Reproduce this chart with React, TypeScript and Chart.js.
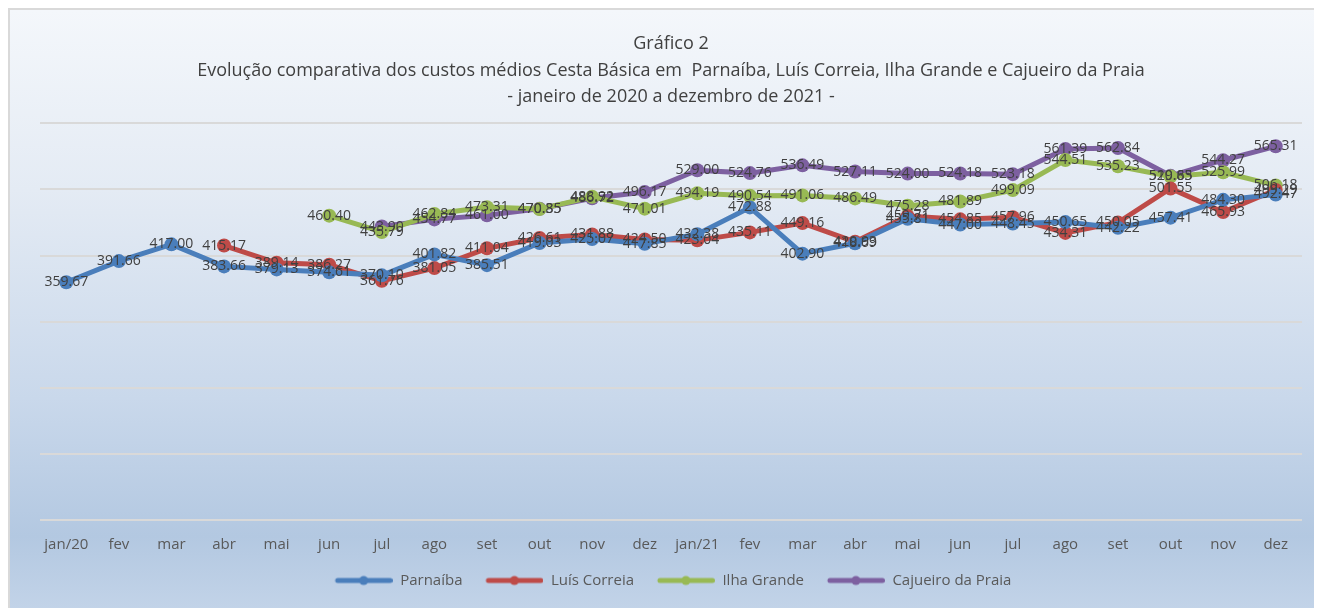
import React, { useEffect, useRef } from "react";
import { Chart, registerables } from "chart.js";

Chart.register(...registerables);

const months = ["jan/20", "fev", "mar", "abr", "mai", "jun", "jul", "ago", "set", "out", "nov", "dez", "jan/21", "fev", "mar", "abr", "mai", "jun", "jul", "ago", "set", "out", "nov", "dez"];

const parnaiba = [359.67, 391.66, 417.0, 383.66, 379.13, 374.61, 370.1, 401.82, 385.51, 419.03, 425.07, 417.85, 432.38, 472.88, 402.9, 418.69, 455.81, 447.0, 448.45, 450.65, 442.22, 457.41, 484.3, 492.47];
const luisCorreia = [null, null, null, 415.17, 389.14, 386.27, 361.76, 381.05, 411.04, 426.61, 431.88, 424.5, 423.04, 435.11, 449.16, 420.93, 459.71, 454.85, 457.96, 434.31, 450.05, 501.55, 465.93, 499.29];
const ilhaGrande = [null, null, null, null, null, 460.4, 435.79, 462.84, 473.31, 470.35, 488.92, 471.01, 494.19, 490.54, 491.06, 486.49, 475.28, 481.89, 499.09, 544.51, 535.23, 519.83, 525.99, 506.18];
const cajueiro = [null, null, null, null, null, null, 443.9, 454.77, 461.0, 470.85, 486.72, 496.17, 529.0, 524.76, 536.49, 527.11, 524.0, 524.18, 523.18, 561.39, 562.84, 520.65, 544.27, 565.31];

const seriesNames = ["Parnaíba", "Luís Correia", "Ilha Grande", "Cajueiro da Praia"];
const seriesColors = ["#4a7ebb", "#be4b48", "#98b954", "#7d60a0"];

const titleLines = [
  "Gráfico 2",
  "Evolução comparativa dos custos médios Cesta Básica em  Parnaíba, Luís Correia, Ilha Grande e Cajueiro da Praia",
  "- janeiro de 2020 a dezembro de 2021 -",
];

const FONT = "'Open Sans', 'Noto Sans', sans-serif";

const ICON_W = 66;
const ICON_BLANK = 8;

function makeIcon(color: string) {
  const c = document.createElement("canvas");
  c.width = ICON_W;
  c.height = 14;
  const g = c.getContext("2d")!;
  g.strokeStyle = color;
  g.lineWidth = 5;
  g.lineCap = "round";
  g.beginPath();
  g.moveTo(ICON_BLANK + 3, 7);
  g.lineTo(ICON_W - 2.5, 7);
  g.stroke();
  g.fillStyle = color;
  g.beginPath();
  g.arc((ICON_BLANK + ICON_W) / 2, 7, 4.5, 0, Math.PI * 2);
  g.fill();
  return c;
}

const dataLabels = {
  id: "dataLabels",
  afterDatasetsDraw(chart: any) {
    const ctx = chart.ctx;
    ctx.save();
    ctx.font = `14px ${FONT}`;
    ctx.fillStyle = "#404040";
    ctx.textAlign = "center";
    ctx.textBaseline = "middle";
    chart.data.datasets.forEach((ds: any, i: number) => {
      const meta = chart.getDatasetMeta(i);
      meta.data.forEach((pt: any, j: number) => {
        const v = ds.data[j];
        if (v === null || v === undefined) return;
        ctx.fillText(v.toFixed(2), pt.x, pt.y);
      });
    });
    ctx.restore();
  },
};

export default function App() {
  const ref = useRef<HTMLCanvasElement>(null);
  useEffect(() => {
    Chart.defaults.font.family = FONT;
    const all = [parnaiba, luisCorreia, ilhaGrande, cajueiro];
    const icons = seriesColors.map(makeIcon);
    const chart = new Chart(ref.current!, {
      type: "line",
      data: {
        labels: months,
        datasets: all.map((d, i) => ({
          label: seriesNames[i],
          data: d,
          borderColor: seriesColors[i],
          backgroundColor: seriesColors[i],
          borderWidth: 5,
          pointRadius: 7,
          pointBorderWidth: 0,
          pointBackgroundColor: seriesColors[i],
          pointStyle: "circle",
          tension: 0,
          spanGaps: false,
        })),
      },
      options: {
        responsive: false,
        animation: false,
        layout: { padding: { left: 30, right: 20, bottom: 10 } },
        plugins: {
          title: {
            display: true,
            text: titleLines,
            color: "#404040",
            font: { size: 18, weight: "normal", lineHeight: 1.47 },
            padding: { top: 21, bottom: 13 },
          },
          legend: {
            position: "bottom",
            labels: {
              usePointStyle: true,
              pointStyleWidth: ICON_W,
              boxHeight: 14,
              color: "#595959",
              font: { size: 15 },
              padding: 11,
              generateLabels: (c: any) =>
                c.data.datasets.map((ds: any, i: number) => ({
                  text: ds.label + " ",
                  fillStyle: seriesColors[i],
                  strokeStyle: seriesColors[i],
                  pointStyle: icons[i],
                  lineWidth: 0,
                  hidden: false,
                  datasetIndex: i,
                  fontColor: "#595959",
                })),
            },
          },
          tooltip: { enabled: false },
        },
        scales: {
          x: {
            offset: true,
            grid: { display: false },
            border: { display: false },
            ticks: { color: "#595959", font: { size: 15 }, padding: 8, maxRotation: 0, autoSkip: false },
          },
          y: {
            min: 0,
            max: 600,
            ticks: { display: false, stepSize: 100 },
            grid: { color: "#d9d9d9", lineWidth: 2, drawTicks: false },
            border: { display: false },
            afterFit: (s: any) => {
              s.width = 0;
            },
          },
        },
      },
      plugins: [dataLabels],
    } as any);
    return () => chart.destroy();
  }, []);

  return (
    <div
      style={{
        width: 1312,
        height: 598,
        borderLeft: "2px solid #d9d9d9",
        borderTop: "2px solid #d9d9d9",
        background: "linear-gradient(to bottom, #f4f7fb 0%, #e4ebf4 30%, #c9d8eb 65%, #b3c8e1 88%, #c2d3e8 100%)",
        overflow: "hidden",
      }}
    >
      <canvas ref={ref} width={1312} height={598} style={{ display: "block" }} />
    </div>
  );
}
